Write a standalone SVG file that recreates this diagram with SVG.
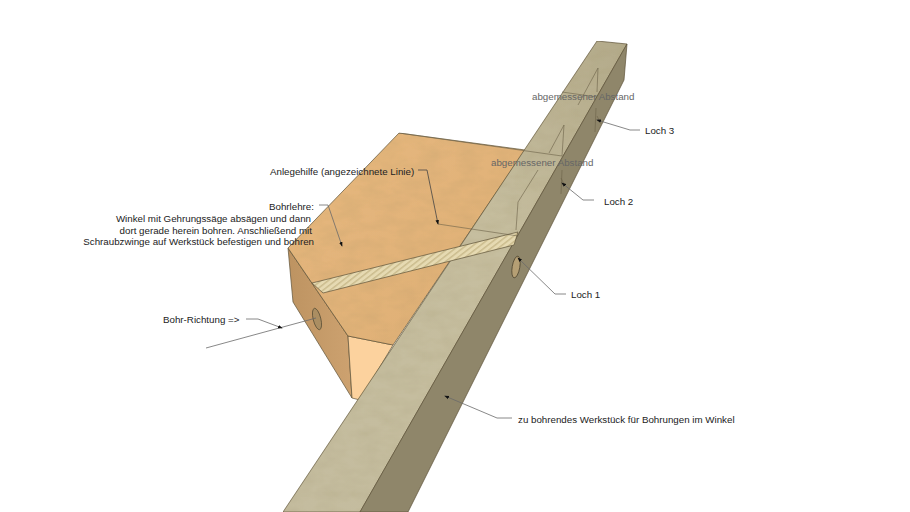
<svg xmlns="http://www.w3.org/2000/svg" width="910" height="512" viewBox="0 0 910 512">
<style>
text{font-family:"Liberation Sans",Arial,sans-serif;font-size:9.75px;fill:#222}
.dim{fill:#666}
.edge{stroke:#5d5238;stroke-width:.7;stroke-linejoin:round}
.lead{fill:none;stroke:#6a6a6a;stroke-width:.8}
.thin{fill:none;stroke:#6b6248;stroke-width:.6}
</style>
<defs>
<pattern id="grain" width="4.4" height="5" patternUnits="userSpaceOnUse" patternTransform="rotate(52)"><rect width="4.4" height="5" fill="#e6dab2"/><rect width="1.5" height="5" fill="#cbbc8e"/></pattern>
<linearGradient id="top" x1="0" y1="1" x2="1" y2="0"><stop offset="0" stop-color="#c4bc9f"/><stop offset=".6" stop-color="#c6be9f"/><stop offset="1" stop-color="#b3aa8a"/></linearGradient>
<linearGradient id="ply" x1="0" y1="0" x2="1" y2="1"><stop offset="0" stop-color="#e6b87f"/><stop offset="1" stop-color="#deae74"/></linearGradient>
<linearGradient id="side" x1="0" y1="0" x2="1" y2="0"><stop offset="0" stop-color="#bd9361"/><stop offset="1" stop-color="#cda270"/></linearGradient>
<filter id="wood" x="0" y="0" width="1" height="1"><feTurbulence type="fractalNoise" baseFrequency=".05 .1" numOctaves="3" seed="4"/><feColorMatrix values="0 0 0 0 .35 0 0 0 0 .28 0 0 0 0 .12 0 0 0 .3 -.1"/><feComposite in2="SourceGraphic" operator="in" result="n"/><feMerge><feMergeNode in="SourceGraphic"/><feMergeNode in="n"/></feMerge></filter>
<marker id="dot" viewBox="0 0 6 6" refX="5" refY="3" markerWidth="6" markerHeight="6" orient="auto"><path d="M0 .8L6 3L0 5.2z" fill="#111"/></marker>
</defs>
<rect width="910" height="512" fill="#fff"/>
<g id="jig">
<polygon class="edge" points="288,248 348,336 352,398 293,302" fill="url(#side)"/>
<polygon class="edge" points="348,336 393,345 360,400 352,398" fill="#fcd29e"/>
<polygon class="edge" points="399,133 288,248 348,336 393,345 525,150" fill="url(#ply)" filter="url(#wood)"/>
<ellipse cx="317" cy="319" rx="3.8" ry="11" transform="rotate(-14 317 319)" fill="#ab8e62" stroke="#5d5238" stroke-width=".8"/>
</g>
<g id="beam">
<polygon class="edge" points="597,41 627,44 360,512 283,512" fill="url(#top)" filter="url(#wood)"/>
<polygon class="edge" points="627,44 624,80 408,512 360,512" fill="#8f866a"/>
<ellipse cx="516" cy="267" rx="3.8" ry="11" transform="rotate(10 516 267)" fill="#b59f74" stroke="#4f4630" stroke-width=".8"/>
</g>
<g id="strip">
<polygon class="edge" points="312,283 518,232 514,245 323,293" fill="url(#grain)"/>
</g>
<g id="connectors">
<path class="thin" d="M399,133L562,156M562,92L597,97"/>
<path class="thin" d="M598,68L597,92M598,68L578,105M564,125L562,156M564,125L549,153M518,202L516,230M538,170L518,202"/>
<path class="thin" d="M438,224L518,236"/>
<path class="thin" d="M596,108L595,132M562,170L561,194M561,178L565,186M597,116L601,124"/>
<path class="lead" d="M206,348L316,318"/>
<path class="lead" marker-end="url(#dot)" d="M319,205H328L342,246"/>
<path class="lead" marker-end="url(#dot)" style="stroke:#444" d="M418,170H427L438,224"/>
<path class="lead" marker-end="url(#dot)" d="M246,319H258L282,328"/>
<path class="lead" marker-end="url(#dot)" d="M566,294H555L518,258"/>
<path class="lead" marker-end="url(#dot)" d="M594,200H583L562,183"/>
<path class="lead" marker-end="url(#dot)" d="M640,130H630L597,120"/>
<path class="lead" marker-end="url(#dot)" d="M512,418H497L445,396"/>
</g>
<g id="labels">
<text class="dim" x="532" y="100">abgemessener Abstand</text>
<text class="dim" x="491" y="166">abgemessener Abstand</text>
<text x="645" y="134">Loch 3</text>
<text x="604" y="205">Loch 2</text>
<text x="571" y="298">Loch 1</text>
<text x="270" y="175">Anlegehilfe (angezeichnete Linie)</text>
<text x="314" y="210" text-anchor="end">Bohrlehre:</text>
<text x="311" y="222" text-anchor="end">Winkel mit Gehrungssäge absägen und dann</text>
<text x="312" y="234" text-anchor="end">dort gerade herein bohren. Anschließend mit</text>
<text x="314" y="245" text-anchor="end">Schraubzwinge auf Werkstück befestigen und bohren</text>
<text x="163" y="323">Bohr-Richtung =&gt;</text>
<text x="518" y="423">zu bohrendes Werkstück für Bohrungen im Winkel</text>
</g>
</svg>
